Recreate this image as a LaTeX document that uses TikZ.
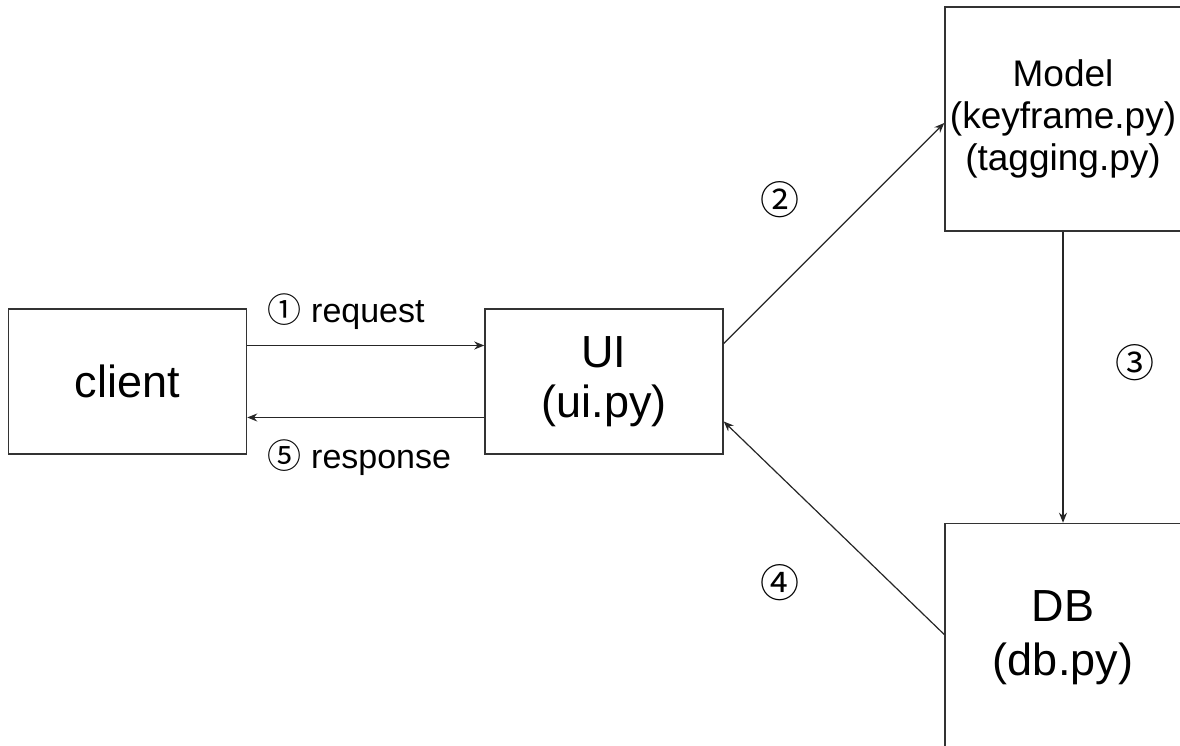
\documentclass[tikz,border=0pt]{standalone}
\usepackage{fontspec}
\setmainfont{Liberation Sans}
\newfontfamily\circfont{Noto Sans CJK KR}
\usetikzlibrary{positioning,arrows.meta}

\begin{document}
\begin{tikzpicture}[x=1pt, y=1pt, line width=1.5pt,
  box/.style = {draw=black!80, minimum width=238pt, minimum height=145pt, inner sep=0pt, align=center, font=\fontsize{45}{50}\selectfont},
  bigbox/.style = {box, minimum width=236pt, minimum height=224pt},
  flow/.style = {draw=black!85, line width=1.2pt, -{Stealth[length=10pt,width=8pt]}},
  lbl/.style = {inner sep=0pt, font=\fontsize{34}{38}\selectfont}]
\useasboundingbox (0,0) rectangle (1180,746);

\node[box] (client) at (127.5,364.5) {client};
\node[box] (ui) [right=237pt of client] {UI\\(ui.py)};
\node[bigbox, font=\fontsize{37}{42}\selectfont] (model) at (1063,627) {Model\\(keyframe.py)\\(tagging.py)};
\node[bigbox, minimum height=228pt, font=\fontsize{45}{54}\selectfont] (db) [below=291pt of model] {DB\\(db.py)};

\draw[flow] ([yshift=36pt]client.east) -- ([yshift=36pt]ui.west);
\draw[flow] ([yshift=-36pt]ui.west) -- ([yshift=-36pt]client.east);
\draw[flow] ([yshift=38pt]ui.east) -- ([yshift=-4pt]model.west);
\draw[flow] (model.south) -- (db.north);
\draw[flow] ([yshift=3pt]db.west) -- ([yshift=-40pt]ui.east);

\node[lbl, anchor=west] (req) at (267,434) {{\circfont ①} request};
\node[lbl, anchor=west] (resp) at (267,288) {{\circfont ⑤} response};
\node[lbl, font=\fontsize{39}{44}\selectfont] (two) at (780,546) {\circfont ②};
\node[lbl, font=\fontsize{39}{44}\selectfont] (three) at (1135,383) {\circfont ③};
\node[lbl, font=\fontsize{39}{44}\selectfont] (four) at (780,163) {\circfont ④};
\end{tikzpicture}
\end{document}
